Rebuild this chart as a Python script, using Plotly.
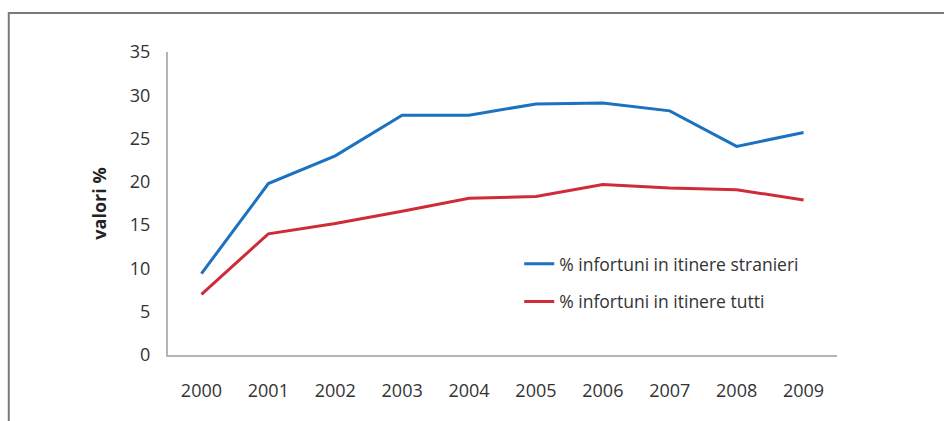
import plotly.graph_objects as go

years = ["2000", "2001", "2002", "2003", "2004", "2005", "2006", "2007", "2008", "2009"]
stranieri = [9.4, 19.8, 23.0, 27.7, 27.7, 29.0, 29.1, 28.2, 24.1, 25.7]
tutti = [7.0, 14.0, 15.2, 16.6, 18.1, 18.3, 19.7, 19.3, 19.1, 17.9]
y_ticks = [0, 5, 10, 15, 20, 25, 30, 35]

FONT = "Open Sans, sans-serif"
positions = list(range(len(years)))

fig = go.Figure()
fig.add_trace(go.Scatter(
    x=positions, y=stranieri, mode="lines",
    name="% infortuni in itinere stranieri",
    line=dict(color="#1a72c0", width=3),
    legendgroup="a",
))
fig.add_trace(go.Scatter(
    x=positions, y=tutti, mode="lines",
    name="% infortuni in itinere tutti",
    line=dict(color="#cf2b38", width=3),
    legendgroup="b",
))

# outer frame around the chart area
fig.add_shape(type="rect", xref="paper", yref="paper",
              x0=-0.238, x1=1.2, y0=-0.25, y1=1.129,
              line=dict(color="#7a7a7a", width=2), layer="below")

fig.update_layout(
    width=944, height=421,
    margin=dict(l=167.5, r=106.5, t=52, b=66),
    paper_bgcolor="white", plot_bgcolor="white",
    font=dict(family=FONT, size=18, color="#333333"),
    showlegend=True,
    legend=dict(x=0.525, y=0.36, xanchor="left", yanchor="top",
                bgcolor="rgba(0,0,0,0)", tracegroupgap=12,
                font=dict(family=FONT, size=17.5, color="#333333")),
    xaxis=dict(
        range=[-0.5, len(years) - 0.5],
        tickmode="array", tickvals=positions, ticktext=years,
        showgrid=False, zeroline=False,
        showline=True, linecolor="#b4b4b4", linewidth=2,
        ticks="", ticklabelstandoff=18,
    ),
    yaxis=dict(
        range=[0, 35],
        tickmode="array", tickvals=y_ticks,
        showgrid=False, zeroline=False,
        showline=True, linecolor="#b4b4b4", linewidth=2,
        ticks="", ticklabelstandoff=12,
        title=dict(text="<b>valori %</b>", standoff=19,
                   font=dict(family=FONT, size=18, color="#222222")),
    ),
)

fig.write_html("out.html")
